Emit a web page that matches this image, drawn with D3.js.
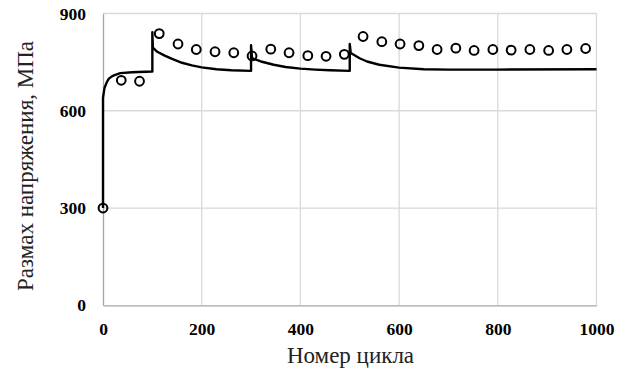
<!DOCTYPE html>
<html><head><meta charset="utf-8">
<script src="https://cdn.jsdelivr.net/npm/d3@7"></script>
<style>body{margin:0;background:#fff}svg{display:block}</style>
</head><body><svg id="c" width="627" height="369"></svg>
<script>
// Experimental points (cycle, stress range)
const pointCycles = [0, 37, 74, 114, 152, 189, 227, 265, 302, 340, 377, 415, 452, 489, 527, 565, 602, 640, 677, 715, 752, 790, 827, 865, 903, 940, 978];
const pointValues = [300, 694, 691, 838, 806, 789, 782, 779, 769, 790, 779, 770, 768, 774, 829, 813, 806, 801, 789, 793, 786, 789, 787, 789, 786, 789, 792];
// Calculated curve (cycle, stress range)
const lineCycles = [0, 0, 3, 8, 12, 18, 25, 35, 59, 100, 100, 101, 110, 125, 140, 160, 180, 200, 230, 260, 300, 300, 302, 320, 346, 370, 400, 430, 460, 500, 500, 502, 520, 535, 560, 600, 650, 700, 800, 1000];
const lineValues = [300, 640, 670, 689, 699, 706, 711, 716, 719, 721, 842, 795, 782, 770, 760, 748, 740, 734, 728, 725, 723, 802, 762, 752, 742, 735, 730, 727, 725, 723, 806, 778, 762, 752, 742, 733, 728, 727, 727, 728];
const xTicks = [0, 200, 400, 600, 800, 1000];
const yTicks = [0, 300, 600, 900];
const xTitle = "Номер цикла";
const yTitle = "Размах напряжения, МПа";

const FONT = "'Liberation Serif', 'Times New Roman', serif";
const svg = d3.select("#c");
const x = d3.scaleLinear().domain([0, 1000]).range([103, 596.5]);
const y = d3.scaleLinear().domain([0, 900]).range([305.3, 13.5]);

// gridlines
svg.append("g").selectAll("line").data(xTicks.filter(d => d > 0)).join("line")
  .attr("x1", d => x(d)).attr("x2", d => x(d)).attr("y1", y(0)).attr("y2", y(900))
  .attr("stroke", "#d9d9d9").attr("stroke-width", 1.3);
svg.append("g").selectAll("line").data(yTicks.filter(d => d > 0)).join("line")
  .attr("x1", x(0)).attr("x2", x(1000)).attr("y1", d => y(d)).attr("y2", d => y(d))
  .attr("stroke", "#d9d9d9").attr("stroke-width", 1.3);

// axes
const xAxis = svg.append("g").attr("transform", `translate(0,${y(0)})`)
  .call(d3.axisBottom(x).tickValues(xTicks).tickFormat(d3.format("d")).tickSize(0).tickPadding(17));
const yAxis = svg.append("g").attr("transform", `translate(${x(0)},0)`)
  .call(d3.axisLeft(y).tickValues(yTicks).tickFormat(d3.format("d")).tickSize(0).tickPadding(17));
[xAxis, yAxis].forEach(a => {
  a.attr("font-family", FONT).attr("font-size", 17.5).attr("font-weight", "bold");
  a.select(".domain").attr("stroke", "#a6a6a6").attr("stroke-width", 1.3);
  a.selectAll("text").attr("fill", "#000");
});

// line
const line = d3.line().x((d, i) => x(lineCycles[i])).y((d, i) => y(lineValues[i]));
svg.append("path").datum(lineValues).attr("d", line)
  .attr("fill", "none").attr("stroke", "#000").attr("stroke-width", 2.4).attr("stroke-linejoin", "round");

// points
svg.append("g").selectAll("circle").data(pointValues).join("circle")
  .attr("cx", (d, i) => x(pointCycles[i])).attr("cy", d => y(d)).attr("r", 4.4)
  .attr("fill", "none").attr("stroke", "#000").attr("stroke-width", 2);

// titles
svg.append("text").attr("x", 350.5).attr("y", 363).attr("text-anchor", "middle")
  .attr("font-family", FONT).attr("font-size", 23).attr("fill", "#222").text(xTitle);
svg.append("text").attr("transform", `translate(33,166) rotate(-90)`).attr("text-anchor", "middle")
  .attr("font-family", FONT).attr("font-size", 23).attr("fill", "#222").text(yTitle);
</script></body></html>
